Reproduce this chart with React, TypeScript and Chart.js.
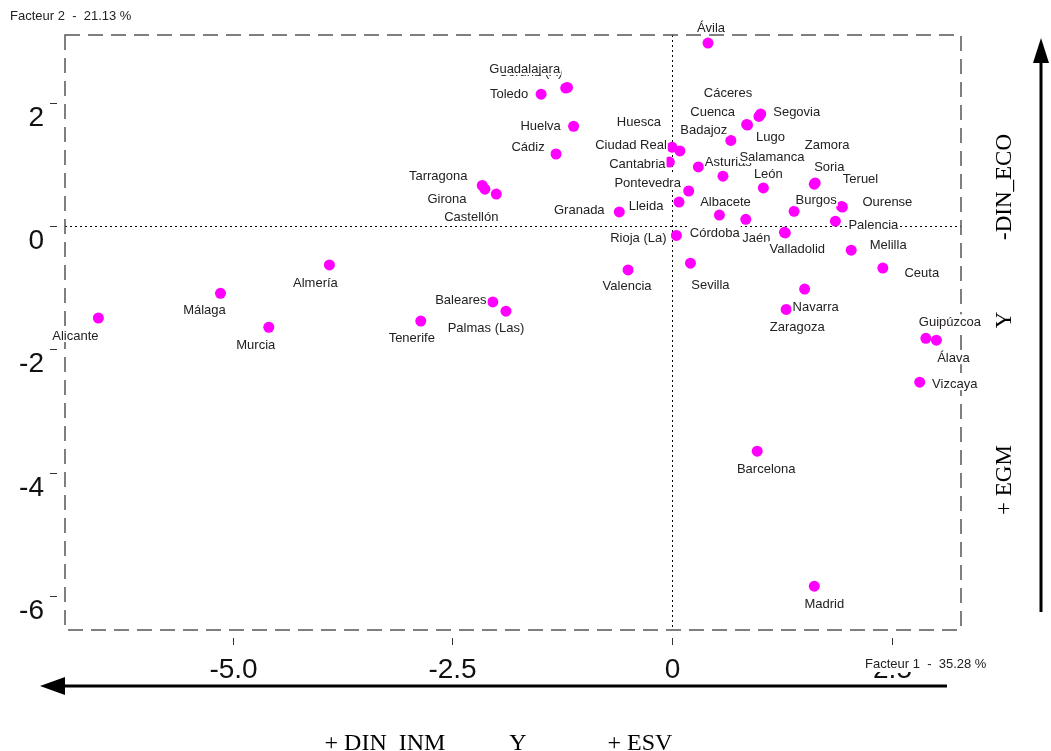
import React, { useEffect, useRef } from 'react';
import { Chart, registerables } from 'chart.js';

Chart.register(...registerables);

// ---------------- DATA ----------------
const provinces = [
  'Coruña (A)', 'Ávila', 'Guadalajara', 'Toledo', 'Huelva', 'Cádiz', 'Tarragona', 'Girona', 'Castellón', 'Granada',
  'Huesca', 'Ciudad Real', 'Cantabria', 'Asturias', 'Pontevedra', 'Lleida', 'Rioja (La)', 'Cáceres', 'Segovia', 'Cuenca',
  'Lugo', 'Badajoz', 'Salamanca', 'León', 'Zamora', 'Soria', 'Teruel', 'Ourense', 'Burgos', 'Palencia',
  'Albacete', 'Córdoba', 'Jaén', 'Valladolid', 'Melilla', 'Ceuta', 'Valencia', 'Sevilla', 'Navarra', 'Zaragoza',
  'Guipúzcoa', 'Álava', 'Vizcaya', 'Barcelona', 'Madrid', 'Alicante', 'Málaga', 'Murcia', 'Almería', 'Tenerife',
  'Baleares', 'Palmas (Las)',
];

const factor1 = [
  -1.19, 0.41, -1.21, -1.49, -1.12, -1.32, -2.16, -2.13, -2.0, -0.6,
  0.09, 0.0, -0.03, 0.3, 0.19, 0.08, 0.05, 0.99, 1.01, 0.85,
  0.86, 0.67, 0.58, 1.04, 1.63, 1.62, 1.93, 1.94, 1.39, 1.86,
  0.54, 0.84, 1.28, 1.29, 2.04, 2.4, -0.5, 0.21, 1.51, 1.3,
  2.89, 3.01, 2.82, 0.97, 1.62, -6.53, -5.14, -4.59, -3.9, -2.86,
  -2.04, -1.89,
];

const factor2 = [
  2.25, 2.97, 2.24, 2.14, 1.62, 1.17, 0.66, 0.6, 0.52, 0.23,
  1.22, 1.28, 1.04, 0.96, 0.57, 0.39, -0.15, 1.78, 1.82, 1.65,
  1.64, 1.39, 0.81, 0.62, 0.7, 0.68, 0.32, 0.31, 0.24, 0.08,
  0.18, 0.11, -0.1, -0.11, -0.39, -0.68, -0.71, -0.6, -1.02, -1.35,
  -1.82, -1.85, -2.53, -3.65, -5.84, -1.49, -1.09, -1.64, -0.63, -1.54,
  -1.23, -1.38,
];

const xTickValues = [-5, -2.5, 0, 2.5];
const xTickLabels = ['-5.0', '-2.5', '0', '2.5'];
const yTickValues = [2, 0, -2, -4, -6];
const yTickLabels = ['2', '0', '-2', '-4', '-6'];

const xAxisTitle = 'Facteur 1  -  35.28 %';
const yAxisTitle = 'Facteur 2  -  21.13 %';
const bottomTexts = ['+ DIN_INM', 'Y', '+ ESV'];
const sideTexts = ['-DIN_ECO', 'Y', '+ EGM'];

// ---------------- LAYOUT (label placement, px offsets from each point) ----------------
const labelOffsets: [number, number][] = [
  [-37, -16], [3, -16], [-41, -20], [-32, -1], [-33, -1], [-28, -8], [-44, -10], [-38, 9], [-25, 22], [-40, -3],
  [-41, -29], [-41, -3], [-32, 1], [30, -6], [-41, -9], [-33, 3], [-38, 2], [-31, -24], [36, -3], [-34, -13],
  [23, 11], [-27, -11], [49, -20], [5, -14], [12, -39], [15, -18], [19, -28], [45, -6], [22, -12], [38, 3],
  [6, -14], [-31, 13], [-28, 5], [12, 15], [37, -6], [39, 4], [-1, 16], [20, 21], [11, 17], [11, 17],
  [24, -17], [17, 17], [35, 1], [9, 17], [10, 17], [-23, 17], [-16, 16], [-13, 17], [-14, 17], [-9, 16],
  [-32, -3], [-20, 16],
];

const SANS = '"Liberation Sans", Arial, sans-serif';
const SERIF = '"Liberation Serif", "Times New Roman", serif';

const overlayPlugin = {
  id: 'overlay',
  beforeDatasetsDraw(chart: any) {
    const { ctx, chartArea: a, scales } = chart;
    const xs = scales.x;
    const ys = scales.y;
    ctx.save();
    // zero lines (dotted)
    const x0 = Math.round(xs.getPixelForValue(0)) + 0.5;
    const y0 = Math.round(ys.getPixelForValue(0)) + 0.5;
    ctx.strokeStyle = '#000';
    ctx.lineWidth = 1;
    ctx.setLineDash([2, 3]);
    ctx.beginPath();
    ctx.moveTo(x0, a.top);
    ctx.lineTo(x0, a.bottom);
    ctx.moveTo(a.left, y0);
    ctx.lineTo(a.right, y0);
    ctx.stroke();
    // dashed frame
    ctx.setLineDash([15, 8]);
    ctx.strokeStyle = '#555';
    ctx.lineWidth = 1.5;
    ctx.strokeRect(a.left, a.top, a.right - a.left, a.bottom - a.top);
    ctx.setLineDash([]);

    // y ticks
    ctx.strokeStyle = '#333';
    ctx.lineWidth = 1;
    ctx.fillStyle = '#111';
    ctx.font = `28px ${SANS}`;
    ctx.textAlign = 'right';
    ctx.textBaseline = 'alphabetic';
    yTickValues.forEach((v, i) => {
      const py = Math.round(ys.getPixelForValue(v)) + 0.5;
      ctx.beginPath();
      ctx.moveTo(a.left - 15, py);
      ctx.lineTo(a.left - 8, py);
      ctx.stroke();
      ctx.fillText(yTickLabels[i], a.left - 21, py + 22);
    });
    // x ticks
    ctx.textAlign = 'center';
    xTickValues.forEach((v, i) => {
      const px = Math.round(xs.getPixelForValue(v)) + 0.5;
      ctx.beginPath();
      ctx.moveTo(px, a.bottom + 8);
      ctx.lineTo(px, a.bottom + 15);
      ctx.stroke();
      ctx.fillText(xTickLabels[i], px, a.bottom + 48);
    });
    ctx.restore();
  },
  afterDatasetsDraw(chart: any) {
    const { ctx, chartArea: a } = chart;
    const meta = chart.getDatasetMeta(0);
    ctx.save();
    // point labels
    ctx.font = `13px ${SANS}`;
    ctx.textAlign = 'center';
    ctx.textBaseline = 'middle';
    meta.data.forEach((el: any, i: number) => {
      const name = provinces[i];
      const [dx, dy] = labelOffsets[i];
      const cx = el.x + dx;
      const cy = el.y + dy;
      const w = ctx.measureText(name).width;
      ctx.fillStyle = '#fff';
      ctx.fillRect(cx - w / 2 - 1, cy - 7, w + 2, 14);
      ctx.fillStyle = '#222';
      ctx.fillText(name, cx, cy + 1);
    });

    // axis titles
    ctx.textAlign = 'left';
    ctx.font = `13px ${SANS}`;
    const w1 = ctx.measureText(xAxisTitle).width;
    ctx.fillStyle = '#fff';
    ctx.fillRect(a.right - 97, a.bottom + 26, w1 + 4, 16);
    ctx.fillStyle = '#222';
    ctx.fillText(xAxisTitle, a.right - 96, a.bottom + 34);
    ctx.fillText(yAxisTitle, 10, 16);

    // arrows
    ctx.strokeStyle = '#000';
    ctx.fillStyle = '#000';
    ctx.lineWidth = 3;
    const ay = 686;
    ctx.beginPath();
    ctx.moveTo(947, ay);
    ctx.lineTo(60, ay);
    ctx.stroke();
    ctx.beginPath();
    ctx.moveTo(40, ay);
    ctx.lineTo(65, ay - 9);
    ctx.lineTo(65, ay + 9);
    ctx.closePath();
    ctx.fill();
    const ax = 1041;
    ctx.beginPath();
    ctx.moveTo(ax, 612);
    ctx.lineTo(ax, 58);
    ctx.stroke();
    ctx.beginPath();
    ctx.moveTo(ax, 38);
    ctx.lineTo(ax - 8, 63);
    ctx.lineTo(ax + 8, 63);
    ctx.closePath();
    ctx.fill();

    // bottom texts
    ctx.font = `24px ${SERIF}`;
    ctx.textAlign = 'center';
    ctx.textBaseline = 'alphabetic';
    const bottomX = [385, 518, 640];
    bottomTexts.forEach((t, i) => ctx.fillText(t, bottomX[i], 750));

    // side texts (rotated)
    ctx.font = `23px ${SERIF}`;
    ctx.textBaseline = 'middle';
    const sideY = [187, 320, 480];
    sideTexts.forEach((t, i) => {
      ctx.save();
      ctx.translate(1005, sideY[i]);
      ctx.rotate(-Math.PI / 2);
      ctx.fillText(t, 0, 0);
      ctx.restore();
    });
    ctx.restore();
  },
};

export default function App() {
  const canvasRef = useRef<HTMLCanvasElement | null>(null);

  useEffect(() => {
    document.body.style.margin = '0';
    document.body.style.overflow = 'hidden';
    const canvas = canvasRef.current;
    if (!canvas) return;
    const points = factor1.map((x, i) => ({ x, y: factor2[i] }));
    const chart = new Chart(canvas, {
      type: 'scatter',
      data: {
        datasets: [
          {
            label: 'Provincias',
            data: points,
            backgroundColor: '#ff00ff',
            borderWidth: 0,
            pointRadius: 5.5,
            pointHoverRadius: 5.5,
          },
        ],
      },
      options: {
        animation: false,
        responsive: false,
        devicePixelRatio: 1,
        layout: { padding: { left: 65, top: 35, right: 90, bottom: 121 } },
        plugins: { legend: { display: false }, tooltip: { enabled: false } },
        scales: {
          x: { type: 'linear', min: -6.91, max: 3.29, display: false },
          y: { type: 'linear', min: -6.55, max: 3.1, display: false },
        },
      },
      plugins: [overlayPlugin],
    });
    return () => chart.destroy();
  }, []);

  return (
    <div style={{ width: 1051, height: 751, background: '#fff' }}>
      <canvas ref={canvasRef} width={1051} height={751} style={{ display: 'block' }} />
    </div>
  );
}
